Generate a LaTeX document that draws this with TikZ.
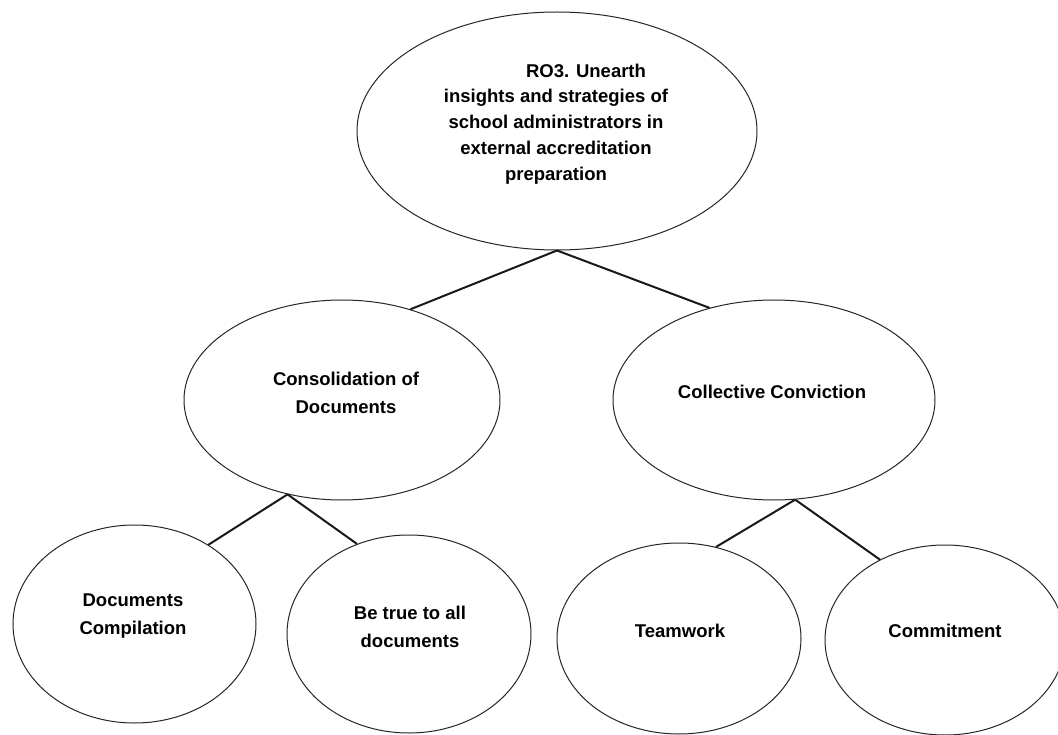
\documentclass[tikz,border=0pt]{standalone}
\usepackage{fontspec}
\setmainfont{Liberation Sans}
\usetikzlibrary{shapes.geometric}
\begin{document}
\begin{tikzpicture}[x=1pt,y=-1pt,
  oval/.style={draw=black!85,line width=1pt,ellipse,inner sep=0pt,minimum width=#1},
  conn/.style={draw=black!90,line width=2pt},
  lbl/.style={font=\fontsize{18.5}{28}\selectfont\bfseries,align=center,inner sep=0pt},
  toplbl/.style={font=\fontsize{18.5}{25.8}\selectfont\bfseries,align=center,inner sep=0pt}]
\useasboundingbox (0,0) rectangle (1058,735);
\clip (0,0) rectangle (1058,735);
\fill[white] (0,0) rectangle (1058,735);
% ellipses
\node[oval=400pt,minimum height=238pt] (ro) at (557,131) {};
\node[oval=316pt,minimum height=200pt] (cons) at (342,400) {};
\node[oval=322pt,minimum height=200pt] (coll) at (774,400) {};
\node[oval=243pt,minimum height=198pt] (comp) at (134.5,624) {};
\node[oval=244pt,minimum height=198pt] (true) at (409,634) {};
\node[oval=244pt,minimum height=191pt] (team) at (679,638.5) {};
\node[oval=240pt,minimum height=190pt] (commit) at (945,640) {};
% texts
\node[toplbl] (rot) at (556,124) {\hspace*{60pt}RO3. Unearth\\insights and strategies of\\school administrators in\\external accreditation\\preparation};
\node[lbl] (const) at (346,393) {Consolidation of\\Documents};
\node[lbl] (collt) at (772,392) {Collective Conviction};
\node[lbl] (compt) at (133,616) {Documents\\Compilation};
\node[lbl] (truet) at (410,627) {Be true to all\\documents};
\node[lbl] (teamt) at (680,631) {Teamwork};
\node[lbl] (committ) at (945,631) {Commitment};
% connectors
\draw[conn] (ro.south) -- (cons.53.5);
\draw[conn] (ro.south) -- (coll.125.7);
\draw[conn] (cons.-120.3) -- (comp.47.8);
\draw[conn] (cons.-120.3) -- (true.120.3);
\draw[conn] (coll.-78.7) -- (team.68);
\draw[conn] (coll.-78.7) -- (commit.129.7);
\end{tikzpicture}
\end{document}
